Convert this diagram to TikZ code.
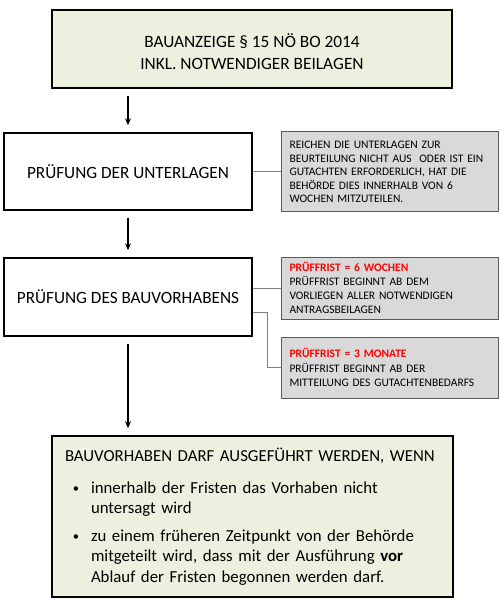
\documentclass[tikz,border=0pt]{standalone}
\usepackage{fontspec}
\setmainfont{Carlito}
\usetikzlibrary{arrows.meta}
\definecolor{boxgreen}{HTML}{EBF1DE}
\definecolor{boxgray}{HTML}{D9D9D9}
\definecolor{edgegray}{HTML}{595959}
\definecolor{linkgray}{HTML}{7F7F7F}
\definecolor{fristred}{HTML}{FF0000}
\newcommand{\bulletitem}{\leavevmode\llap{\raisebox{1pt}{\fontsize{12.5}{12.5}\selectfont\textbullet}\hspace{12pt}}}
\tikzset{
  mainbox/.style={draw=black, line width=1.5pt, rectangle, align=center, inner sep=0pt},
  greenbox/.style={mainbox, fill=boxgreen},
  notebox/.style={draw=edgegray, line width=1pt, fill=boxgray, rectangle, align=left,
    text width=200pt, inner xsep=8.5pt, inner ysep=0pt, font=\fontsize{11.5}{14}\selectfont},
  flow/.style={-{Stealth[length=7pt,width=6pt]}, line width=1.5pt, shorten <=7pt, shorten >=7pt},
  link/.style={draw=linkgray, line width=0.9pt},
}
\begin{document}
\begin{tikzpicture}[x=1pt,y=-1pt]
\useasboundingbox (0,0) rectangle (500,601);
\node[greenbox, minimum width=400pt, minimum height=78pt, font=\fontsize{17.3}{22}\selectfont] (anz) at (252,49)
  {\rule{0pt}{18.7pt}BAUANZEIGE § 15 NÖ BO 2014\\INKL. NOTWENDIGER BEILAGEN};
\node[mainbox, minimum width=248pt, minimum height=77pt, font=\fontsize{17.2}{20}\selectfont] (unt) at (128,171.5)
  {PRÜFUNG DER UNTERLAGEN};
\node[mainbox, minimum width=248pt, minimum height=78pt, font=\fontsize{17.2}{20}\selectfont] (bau) at (128,297)
  {PRÜFUNG DES BAUVORHABENS};
\node[notebox, minimum height=80pt, font=\fontsize{11.5}{13.5}\selectfont] (na) at (389.5,172)
  {REICHEN DIE UNTERLAGEN ZUR\\BEURTEILUNG NICHT AUS\ \ ODER IST EIN\\GUTACHTEN ERFORDERLICH, HAT DIE\\BEHÖRDE DIES INNERHALB VON 6\\WOCHEN MITZUTEILEN.};
\node[notebox, minimum height=62pt] (nb) at (389.5,288)
  {\textcolor{fristred}{\textbf{PRÜFFRIST = 6 WOCHEN}}\\PRÜFFRIST BEGINNT AB DEM\\VORLIEGEN ALLER NOTWENDIGEN\\ANTRAGSBEILAGEN};
\node[notebox, minimum height=61pt, font=\fontsize{11.5}{14.5}\selectfont] (nc) at (389.5,367.5)
  {\textcolor{fristred}{\textbf{PRÜFFRIST = 3 MONATE}}\\PRÜFFRIST BEGINNT AB DER\\MITTEILUNG DES GUTACHTENBEDARFS};
\node[greenbox, minimum width=401pt, minimum height=161pt, text width=375pt, inner xsep=13pt, align=left,
  font=\fontsize{16.8}{20.5}\selectfont] (cond) at (252.5,516.5)
  {BAUVORHABEN DARF AUSGEFÜHRT WERDEN, WENN\par\vspace{11.5pt}
   {\leftskip=26pt\parindent=0pt
   \bulletitem innerhalb der Fristen das Vorhaben nicht\\untersagt wird\par\vspace{7pt}
   \bulletitem zu einem früheren Zeitpunkt von der Behörde\\mitgeteilt wird, dass mit der Ausführung \textbf{vor}\\Ablauf der Fristen begonnen werden darf.\par}};
\draw[flow] (anz.south -| unt.north) -- (unt.north);
\draw[flow] (unt) -- (bau);
\draw[flow] (bau) -- (cond.north -| bau.south);
\coordinate (bend) at (267,312);
\draw[link] (unt.east) -- (unt.east -| na.west);
\draw[link] (bau.east |- nb.west) -- (nb.west);
\draw[link] (bau.east |- bend) -- (bend) |- (nc.west);
\end{tikzpicture}
\end{document}
